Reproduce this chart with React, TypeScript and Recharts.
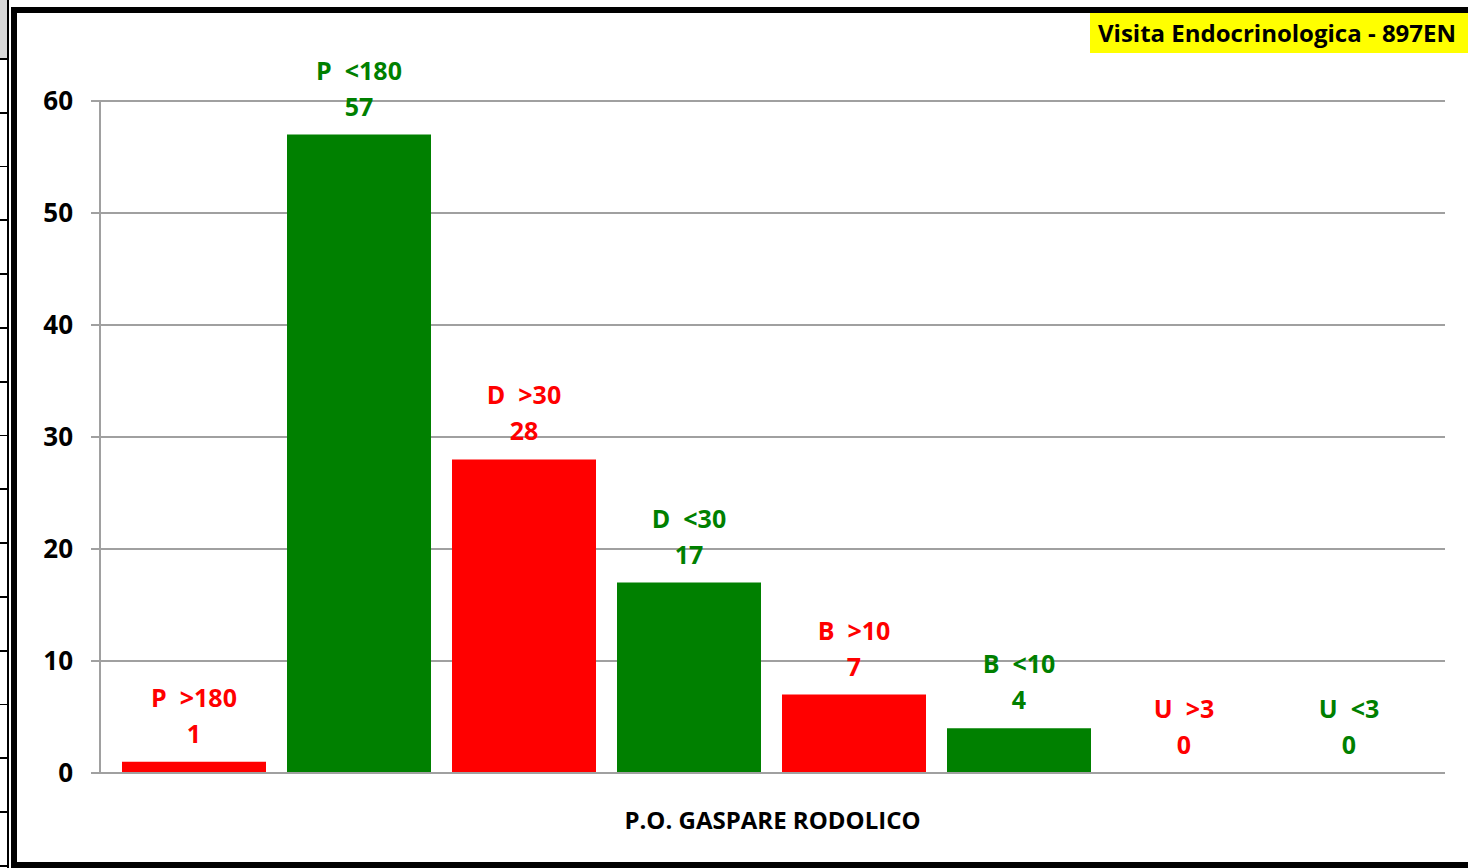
import React from "react";
import { Bar, BarChart, CartesianGrid, LabelList, XAxis, YAxis } from "recharts";

const category = "P.O. GASPARE RODOLICO";
const seriesNames = ["P  >180", "P  <180", "D  >30", "D  <30", "B  >10", "B  <10", "U  >3", "U  <3"];
const seriesValues = [1, 57, 28, 17, 7, 4, 0, 0];
const seriesColors = ["#ff0000", "#008000", "#ff0000", "#008000", "#ff0000", "#008000", "#ff0000", "#008000"];
const yTicks = [0, 10, 20, 30, 40, 50, 60];
const title = "Visita Endocrinologica - 897EN";

const data = [
  Object.fromEntries([
    ["name", category],
    ...seriesValues.map((v, i) => [`s${i}`, v]),
  ]),
];

const FONT = "'Open Sans', Lato, sans-serif";
const GRID = "#a0a0a0";

// two-line label above each bar: series name, then value
const makeLabel = (name: string, color: string) => (props: any) => {
  const { x, y, width, value } = props;
  const cx = Number(x) + Number(width) / 2;
  const top = Number(y);
  return (
    <g fontFamily={FONT} fontWeight={700} fontSize={25} fill={color}>
      <text x={cx} y={top - 55} textAnchor="middle" style={{ whiteSpace: "pre" }}>
        {name}
      </text>
      <text x={cx} y={top - 19} textAnchor="middle">
        {value}
      </text>
    </g>
  );
};

export default function App() {
  return (
    <div
      style={{
        position: "fixed",
        left: 0,
        top: 0,
        width: 1468,
        height: 868,
        overflow: "hidden",
        background: "#fff",
        fontFamily: FONT,
      }}
    >
      {/* spreadsheet row strip on the left */}
      <div
        style={{
          position: "absolute",
          left: 0,
          top: 0,
          width: 8,
          height: 58,
          background: "#d9d9d9",
        }}
      />
      <div
        style={{
          position: "absolute",
          left: 0,
          top: 58,
          width: 8,
          height: 810,
          background:
            "repeating-linear-gradient(to bottom, #000 0 1.8px, transparent 1.8px 53.8px)",
        }}
      />
      <div
        style={{ position: "absolute", left: 7, top: 0, width: 2, height: 868, background: "#000" }}
      />
      {/* outer frame */}
      <div
        style={{
          position: "absolute",
          left: 11,
          top: 7,
          width: 1500,
          height: 861,
          border: "6px solid #000",
          boxSizing: "border-box",
          background: "#fff",
        }}
      />
      <div style={{ position: "absolute", left: 0, top: 0 }}>
        <BarChart
          width={1468}
          height={868}
          data={data}
          margin={{ top: 101, right: 23, left: 40, bottom: 0 }}
          barCategoryGap={22}
          barGap={21}
        >
          <CartesianGrid vertical={false} stroke={GRID} strokeWidth={2} />
          <XAxis
            xAxisId="edge"
            type="number"
            domain={[0, 1]}
            ticks={[0, 1]}
            tick={false}
            axisLine={false}
            tickLine={{ stroke: GRID, strokeWidth: 2 }}
            tickSize={9}
            height={0}
          />
          <XAxis
            dataKey="name"
            axisLine={{ stroke: GRID, strokeWidth: 2 }}
            tickLine={false}
            tickSize={0}
            tickMargin={39}
            height={95}
            tick={{ fill: "#000", fontSize: 24, fontWeight: 700, fontFamily: FONT }}
          />
          <YAxis
            width={60}
            domain={[0, 60]}
            ticks={yTicks}
            interval={0}
            axisLine={{ stroke: GRID, strokeWidth: 2 }}
            tickLine={{ stroke: GRID, strokeWidth: 2 }}
            tickSize={9}
            tickMargin={18}
            tick={{ fill: "#000", fontSize: 26, fontWeight: 700, fontFamily: FONT }}
          />
          {seriesNames.map((n, i) => (
            <Bar
              key={n}
              dataKey={`s${i}`}
              fill={seriesColors[i]}
              minPointSize={0.1}
              isAnimationActive={false}
            >
              <LabelList dataKey={`s${i}`} content={makeLabel(n, seriesColors[i])} />
            </Bar>
          ))}
        </BarChart>
      </div>
      {/* title box */}
      <div
        style={{
          position: "absolute",
          left: 1090,
          top: 13,
          width: 378,
          height: 40,
          background: "#ffff00",
          color: "#000",
          fontWeight: 700,
          fontSize: 24,
          lineHeight: "40px",
          paddingLeft: 8,
          boxSizing: "border-box",
          whiteSpace: "nowrap",
        }}
      >
        {title}
      </div>
    </div>
  );
}
